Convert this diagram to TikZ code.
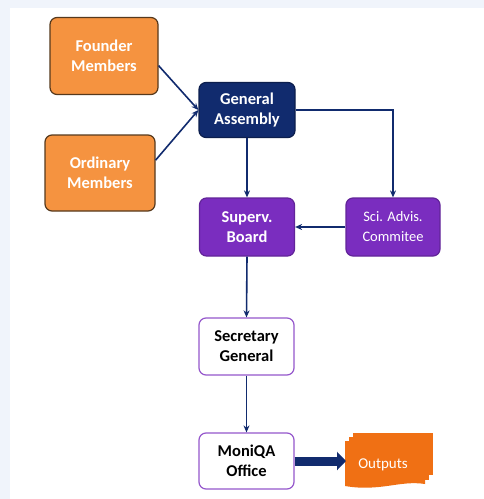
\documentclass[tikz,border=0pt]{standalone}
\usepackage{fontspec}
\setmainfont{Carlito}
\usetikzlibrary{arrows.meta}
\definecolor{navy}{HTML}{112B6E}
\definecolor{boxorange}{HTML}{F59340}
\definecolor{boxpurple}{HTML}{7A2DBF}
\definecolor{outorange}{HTML}{F07014}
\definecolor{edgeblue}{HTML}{F0F4FB}
\tikzset{
  box/.style={rounded corners=7pt, align=center, font=\fontsize{16.5}{20}\selectfont\bfseries, line width=1.2pt, inner sep=0pt},
  member/.style={box, fill=boxorange, draw=black!55!brown, text=white, minimum width=108pt, minimum height=77pt},
  assembly/.style={box, fill=navy, draw=navy!70!black, text=white, minimum width=96pt, minimum height=55pt},
  board/.style={box, fill=boxpurple, draw=boxpurple!80!black, text=white, minimum width=95pt, minimum height=58pt},
  office/.style={box, fill=white, draw=boxpurple!80, text=black, minimum width=95pt, minimum height=57pt},
  link/.style={draw=navy, line width=1.6pt, -{Stealth[length=7pt,width=6pt]}}
}
\begin{document}
\begin{tikzpicture}[x=1pt,y=-1pt]
 \fill[edgeblue] (0,0) rectangle (484,499);
 \fill[white] (10,8) rectangle (484,499);
 \useasboundingbox (0,0) rectangle (484,499);
 % members
 \node[member] (founder) at (104,56) {Founder\\Members};
 \node[member, minimum width=110pt, minimum height=76pt] (ordinary) at (100,173) {Ordinary\\Members};
 % governing bodies
 \node[assembly] (assembly) at (247,110) {General\\Assembly};
 \node[board] (superv) at (247,227) {Superv.\\Board};
 \node[board, minimum width=94pt, font=\fontsize{14.5}{20}\selectfont] (sciadv) at (393,227) {Sci. Advis.\\Commitee};
 \node[office] (secgen) at (246.5,346.5) {Secretary\\General};
 \node[office, minimum height=56pt] (office) at (246.5,461) {MoniQA\\Office};
 % outputs, stacked sheets
 \fill[outorange] (353,433) rectangle (433,475);
 \fill[outorange] (349,437) rectangle (429,480);
 \fill[outorange] (345,441) -- (425,441) -- (425,484) .. controls (400,480) and (380,492) .. (345,486) -- cycle;
 \node[font=\fontsize{15}{18}\selectfont, text=white] (outputs) at (383,465) {Outputs};
 \coordinate (outin) at (346,461);
 % connectors
 \draw[link] (founder.-10) -- (assembly.west);
 \draw[link] (ordinary.13) -- (assembly.west);
 \draw[link] (assembly.south) -- (superv.north);
 \draw[link] (assembly.east) -| (sciadv.north);
 \draw[link] (sciadv.west) -- (superv.east);
 \draw[link] (superv.south) -- (secgen.north);
 \draw[link] (secgen.south) -- (office.north);
 \draw[navy, line width=9pt, -{Triangle[length=9pt,width=18pt]}] (office.east) -- (outin);
\end{tikzpicture}
\end{document}
